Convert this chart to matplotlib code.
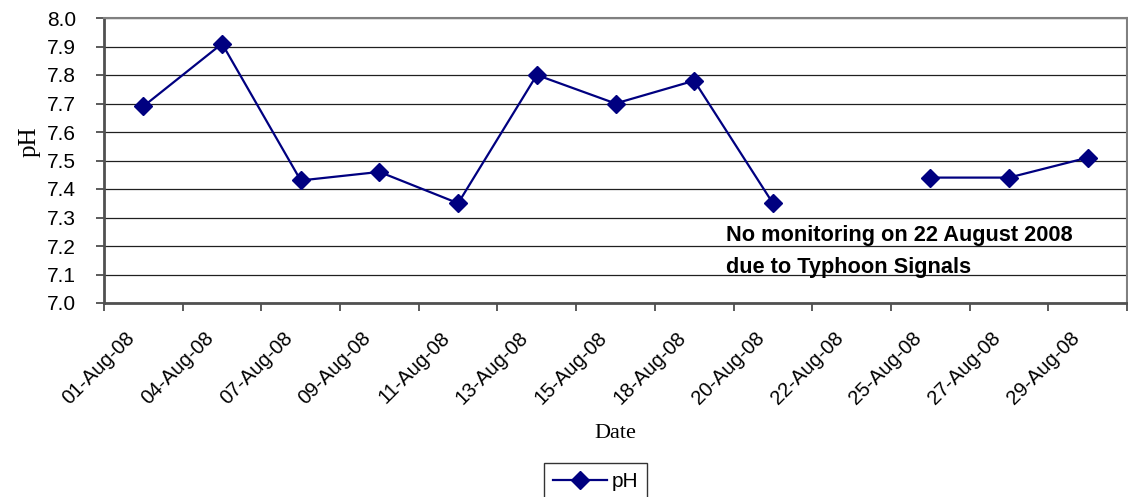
import numpy as np
import matplotlib
matplotlib.use("Agg")
import matplotlib.pyplot as plt

# Данные
dates = ["01-Aug-08", "04-Aug-08", "07-Aug-08", "09-Aug-08", "11-Aug-08",
         "13-Aug-08", "15-Aug-08", "18-Aug-08", "20-Aug-08", "22-Aug-08",
         "25-Aug-08", "27-Aug-08", "29-Aug-08"]
ph = [7.69, 7.91, 7.43, 7.46, 7.35, 7.80, 7.70, 7.78, 7.35, np.nan,
      7.44, 7.44, 7.51]
y_ticks = [7.0, 7.1, 7.2, 7.3, 7.4, 7.5, 7.6, 7.7, 7.8, 7.9, 8.0]

plt.rcParams["font.family"] = ["Liberation Sans", "DejaVu Sans"]

fig = plt.figure(figsize=(11.28, 4.97), dpi=100)
ax = fig.add_axes([104 / 1128, 1 - 303 / 497, 1023 / 1128, 285 / 497])

x = np.arange(len(dates))
ax.plot(x, ph, color="#000080", linewidth=1.6, marker="D", markersize=9,
        label="pH")

ax.set_xlim(-0.5, len(dates) - 0.5)
ax.set_ylim(7.0, 8.0)
ax.set_yticks(y_ticks)
ax.set_yticklabels([f"{v:.1f}" for v in y_ticks], fontsize=15)
# подписи дат чуть левее центра категории (засечки без длины)
ax.set_xticks(x - 0.23)
ax.set_xticklabels(dates, rotation=45, ha="right", rotation_mode="anchor",
                   fontsize=14.5)
ax.tick_params(axis="x", which="major", length=0, pad=18)
ax.set_xticks(np.arange(-0.5, len(dates)), minor=True)
ax.tick_params(axis="x", which="minor", length=6, width=1.2, color="#404040")
ax.tick_params(axis="y", length=6, width=1.2, color="#404040", pad=14)

ax.grid(axis="y", color="#202020", linewidth=0.9)
ax.set_axisbelow(True)
for side in ["left", "bottom"]:
    ax.spines[side].set_color("#505050")
    ax.spines[side].set_linewidth(2)
for side in ["top", "right"]:
    ax.spines[side].set_color("#808080")
    ax.spines[side].set_linewidth(1.5)

ax.set_ylabel("pH", fontsize=18, family=["Liberation Serif"], va="center")
ax.yaxis.set_label_coords((30 - 104) / 1023, (303 - 142) / 285)
ax.set_xlabel("Date", fontsize=16, family=["Liberation Serif"])
ax.xaxis.set_label_coords((615 - 104) / 1023, -(433 - 303) / 285)
ax.xaxis.label.set_va("center")

ax.text(7.4, 7.272, "No monitoring on 22 August 2008\ndue to Typhoon Signals",
        fontsize=15.7, fontweight="bold", va="top", ha="left", linespacing=1.65)

leg = ax.legend(loc="upper center", fontsize=15, frameon=True,
                fancybox=False, edgecolor="black", handlelength=2.6,
                borderpad=0.45, handletextpad=0.2, borderaxespad=0)
leg.get_frame().set_linewidth(1)
leg.set_bbox_to_anchor((595.5 / 1128, 1 - 463 / 497), transform=fig.transFigure)

fig.savefig("out.png", dpi=100)
